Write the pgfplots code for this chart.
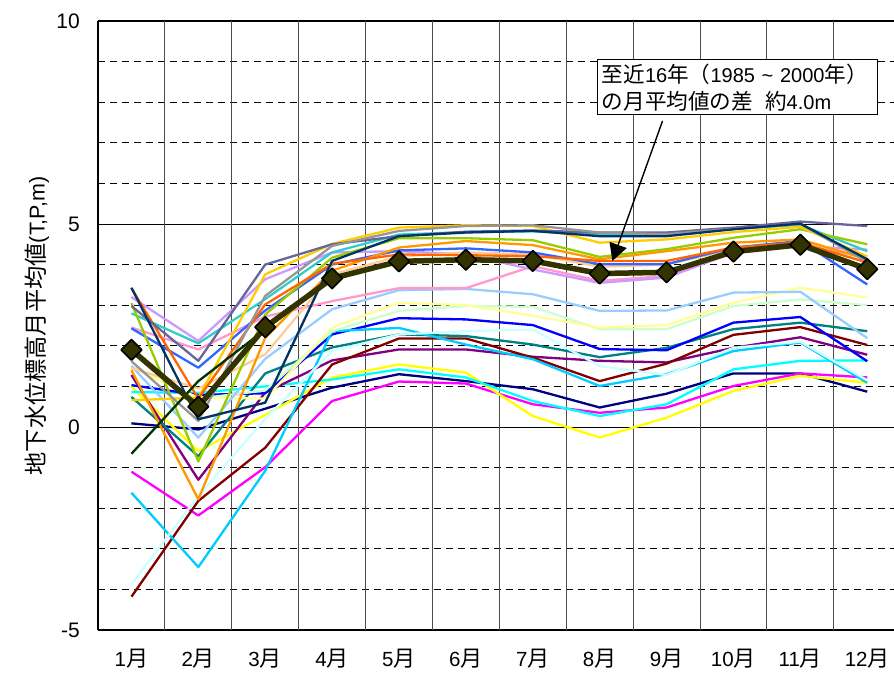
\documentclass[border=0pt]{standalone}
\usepackage{fontspec}
\setmainfont{Liberation Sans}
\newfontfamily\jp{Noto Sans CJK JP}[Scale=1.08]
\usepackage{pgfplots}
\pgfplotsset{compat=1.18}
\usetikzlibrary{arrows.meta}
\definecolor{cnavy}{HTML}{000080}
\definecolor{cmagenta}{HTML}{FF00FF}
\definecolor{cyellow}{HTML}{FFFF00}
\definecolor{ccyan}{HTML}{00FFFF}
\definecolor{cpurple}{HTML}{800080}
\definecolor{cdarkred}{HTML}{800000}
\definecolor{cteal}{HTML}{008080}
\definecolor{cblue}{HTML}{0000FF}
\definecolor{cskyblue}{HTML}{00CCFF}
\definecolor{cltturq}{HTML}{CCFFFF}
\definecolor{cltgreen}{HTML}{CCFFCC}
\definecolor{cltyellow}{HTML}{FFFF99}
\definecolor{cpaleblue}{HTML}{99CCFF}
\definecolor{crose}{HTML}{FF99CC}
\definecolor{clavender}{HTML}{CC99FF}
\definecolor{ctan}{HTML}{FFCC99}
\definecolor{cltblue}{HTML}{3366FF}
\definecolor{caqua}{HTML}{33CCCC}
\definecolor{clime}{HTML}{99CC00}
\definecolor{cgold}{HTML}{FFCC00}
\definecolor{cltorange}{HTML}{FF9900}
\definecolor{corange}{HTML}{FF6600}
\definecolor{cbluegray}{HTML}{666699}
\definecolor{cgray}{HTML}{969696}
\definecolor{cdarkteal}{HTML}{003366}
\definecolor{cdarkgreen}{HTML}{003300}
\definecolor{cavg}{HTML}{333300}
\pgfplotsset{yr/.style={color=#1, line width=2.3pt, mark=none, line join=round}}
\begin{document}
\begin{tikzpicture}
\begin{axis}[
  at={(0pt,0pt)}, anchor=south west, scale only axis,
  width=796pt, height=609pt,
  xmin=0.5, xmax=12.4, ymin=-5, ymax=10,
  axis x line=box, axis y line=left,
  axis line style={line width=1.8pt, -},
  xtick={1,...,12},
  xticklabels={1{\jp 月},2{\jp 月},3{\jp 月},4{\jp 月},5{\jp 月},6{\jp 月},7{\jp 月},8{\jp 月},9{\jp 月},10{\jp 月},11{\jp 月},12{\jp 月}},
  xticklabel style={inner sep=0pt, yshift=-19pt, font=\fontsize{20.5}{24}\selectfont},
  ytick={-5,0,5,10},
  yticklabels={-5,0,5,10},
  yticklabel style={inner sep=0pt, xshift=-18pt, font=\fontsize{21}{24}\selectfont},
  minor ytick={-4,-3,-2,-1,1,2,3,4,6,7,8,9},
  ymajorgrids, yminorgrids,
  major grid style={black, line width=0.7pt, solid},
  minor grid style={black, line width=0.7pt, dash pattern=on 7pt off 5pt},
  tick style={draw=none},
  minor tick length=0pt, major tick length=0pt,
  extra x ticks={1.5,2.5,3.5,4.5,5.5,6.5,7.5,8.5,9.5,10.5,11.5},
  extra x tick labels={},
  extra x tick style={grid=major, major grid style={draw=black!70, line width=1pt, solid}, tick style={draw=none}},
]
\addplot[yr=cnavy] coordinates {(1,0.09)(2,-0.06)(3,0.45)(4,0.97)(5,1.3)(6,1.13)(7,0.93)(8,0.48)(9,0.82)(10,1.32)(11,1.32)(12,0.87)};
\addplot[yr=cmagenta] coordinates {(1,-1.1)(2,-2.18)(3,-0.99)(4,0.64)(5,1.12)(6,1.07)(7,0.56)(8,0.35)(9,0.48)(10,1.01)(11,1.32)(12,1.22)};
\addplot[yr=cyellow] coordinates {(1,1.0)(2,-0.6)(3,0.3)(4,1.22)(5,1.54)(6,1.34)(7,0.27)(8,-0.26)(9,0.23)(10,0.89)(11,1.26)(12,1.09)};
\addplot[yr=ccyan] coordinates {(1,0.86)(2,0.84)(3,1.0)(4,1.17)(5,1.42)(6,1.22)(7,0.64)(8,0.27)(9,0.56)(10,1.42)(11,1.63)(12,1.64)};
\addplot[yr=cpurple] coordinates {(1,1.28)(2,-1.3)(3,0.85)(4,1.64)(5,1.91)(6,1.91)(7,1.73)(8,1.63)(9,1.59)(10,1.95)(11,2.21)(12,1.78)};
\addplot[yr=cdarkred] coordinates {(1,-4.18)(2,-1.82)(3,-0.51)(4,1.54)(5,2.18)(6,2.18)(7,1.71)(8,1.13)(9,1.56)(10,2.27)(11,2.46)(12,2.02)};
\addplot[yr=cteal] coordinates {(1,0.74)(2,-0.72)(3,1.32)(4,1.96)(5,2.28)(6,2.24)(7,2.03)(8,1.72)(9,1.95)(10,2.41)(11,2.57)(12,2.36)};
\addplot[yr=cblue] coordinates {(1,1.03)(2,0.79)(3,0.83)(4,2.28)(5,2.68)(6,2.65)(7,2.51)(8,1.92)(9,1.89)(10,2.57)(11,2.71)(12,1.62)};
\addplot[yr=cskyblue] coordinates {(1,-1.62)(2,-3.45)(3,-1.08)(4,2.36)(5,2.44)(6,2.03)(7,1.67)(8,1.01)(9,1.30)(10,1.87)(11,2.08)(12,1.09)};
\addplot[yr=cltturq] coordinates {(1,-3.87)(2,-1.7)(3,0.2)(4,1.87)(5,2.28)(6,2.36)(7,2.4)(8,1.5)(9,1.28)(10,1.95)(11,2.1)(12,1.15)};
\addplot[yr=cltgreen] coordinates {(1,1.5)(2,0.7)(3,0.9)(4,2.36)(5,2.86)(6,2.98)(7,2.96)(8,2.41)(9,2.41)(10,2.98)(11,3.14)(12,3.0)};
\addplot[yr=cltyellow] coordinates {(1,1.46)(2,0.72)(3,0.7)(4,2.45)(5,3.06)(6,3.0)(7,2.74)(8,2.45)(9,2.51)(10,3.06)(11,3.43)(12,3.19)};
\addplot[yr=cpaleblue] coordinates {(1,1.5)(2,-0.26)(3,1.68)(4,2.9)(5,3.37)(6,3.4)(7,3.27)(8,2.86)(9,2.87)(10,3.31)(11,3.33)(12,2.19)};
\addplot[yr=crose] coordinates {(1,2.45)(2,1.91)(3,2.72)(4,3.1)(5,3.42)(6,3.42)(7,3.96)(8,3.6)(9,3.72)(10,4.28)(11,4.45)(12,4.2)};
\addplot[yr=clavender] coordinates {(1,3.2)(2,2.12)(3,3.64)(4,4.3)(5,4.33)(6,4.25)(7,3.88)(8,3.55)(9,3.68)(10,4.3)(11,4.45)(12,4.37)};
\addplot[yr=ctan] coordinates {(1,1.45)(2,0.95)(3,1.79)(4,3.76)(5,4.2)(6,4.3)(7,4.25)(8,3.95)(9,4.0)(10,4.38)(11,4.55)(12,4.2)};
\addplot[yr=cltblue] coordinates {(1,2.43)(2,1.46)(3,2.87)(4,4.0)(5,4.35)(6,4.4)(7,4.3)(8,4.01)(9,4.01)(10,4.42)(11,4.58)(12,3.51)};
\addplot[yr=caqua] coordinates {(1,2.8)(2,2.06)(3,3.15)(4,4.3)(5,4.74)(6,4.8)(7,4.82)(8,4.74)(9,4.78)(10,4.88)(11,4.98)(12,4.33)};
\addplot[yr=clime] coordinates {(1,3.05)(2,-0.85)(3,2.77)(4,4.17)(5,4.65)(6,4.65)(7,4.6)(8,4.19)(9,4.38)(10,4.66)(11,4.87)(12,4.5)};
\addplot[yr=cgold] coordinates {(1,0.66)(2,0.72)(3,3.76)(4,4.51)(5,4.91)(6,4.97)(7,4.95)(8,4.54)(9,4.62)(10,4.8)(11,4.93)(12,4.2)};
\addplot[yr=cltorange] coordinates {(1,1.4)(2,-1.78)(3,2.2)(4,3.85)(5,4.42)(6,4.58)(7,4.48)(8,4.13)(9,4.33)(10,4.54)(11,4.62)(12,4.13)};
\addplot[yr=corange] coordinates {(1,3.42)(2,0.7)(3,3.02)(4,4.02)(5,4.25)(6,4.23)(7,4.21)(8,4.09)(9,4.09)(10,4.42)(11,4.54)(12,4.05)};
\addplot[yr=cbluegray] coordinates {(1,2.98)(2,1.63)(3,4.0)(4,4.5)(5,4.7)(6,4.81)(7,4.84)(8,4.79)(9,4.79)(10,4.91)(11,5.06)(12,4.95)};
\addplot[yr=cgray] coordinates {(1,1.62)(2,0.15)(3,3.23)(4,4.46)(5,4.83)(6,4.95)(7,4.97)(8,4.79)(9,4.75)(10,4.88)(11,5.0)(12,4.07)};
\addplot[yr=cdarkteal] coordinates {(1,3.43)(2,0.19)(3,0.6)(4,4.09)(5,4.7)(6,4.79)(7,4.83)(8,4.70)(9,4.70)(10,4.87)(11,5.01)(12,4.13)};
\addplot[yr=cdarkgreen] coordinates {(1,-0.66)(2,1.13)(3,2.4)(4,3.68)(5,4.08)(6,4.12)(7,4.09)(8,3.78)(9,3.81)(10,4.3)(11,4.48)(12,3.9)};
\addplot[color=cavg, line width=5.5pt, line join=round, mark=square*, mark size=7.3pt,
  mark options={rotate=45, fill=cavg, draw=black, line width=1.6pt, solid}]
  coordinates {(1,1.9)(2,0.5)(3,2.46)(4,3.66)(5,4.08)(6,4.12)(7,4.09)(8,3.78)(9,3.81)(10,4.32)(11,4.49)(12,3.89)};
\draw[black, line width=1.4pt, -{Triangle[length=17pt,width=18pt]}] (axis cs:8.94,7.54) -- (axis cs:8.19,4.09);
\node[draw=black, line width=1pt, fill=white, anchor=north west, inner xsep=4pt, inner ysep=4pt,
  text width=272pt, align=left, font=\fontsize{20}{27}\selectfont]
  at (axis cs:7.966,9.06) {\mbox{{\jp 至近}16{\jp 年（}1985 \textasciitilde{} 2000{\jp 年）}}\\\mbox{{\jp の月平均値の差}\hspace{0.6em}{\jp 約}4.0m}};
\end{axis}
\node[rotate=90, font=\fontsize{21.5}{24}\selectfont] at (-61pt,304pt) {{\jp 地下水位標高月平均値}(T,P,m)};
\pgfresetboundingbox
\path[use as bounding box] (-98pt,-45pt) rectangle (796pt,630pt);
\end{tikzpicture}
\end{document}
